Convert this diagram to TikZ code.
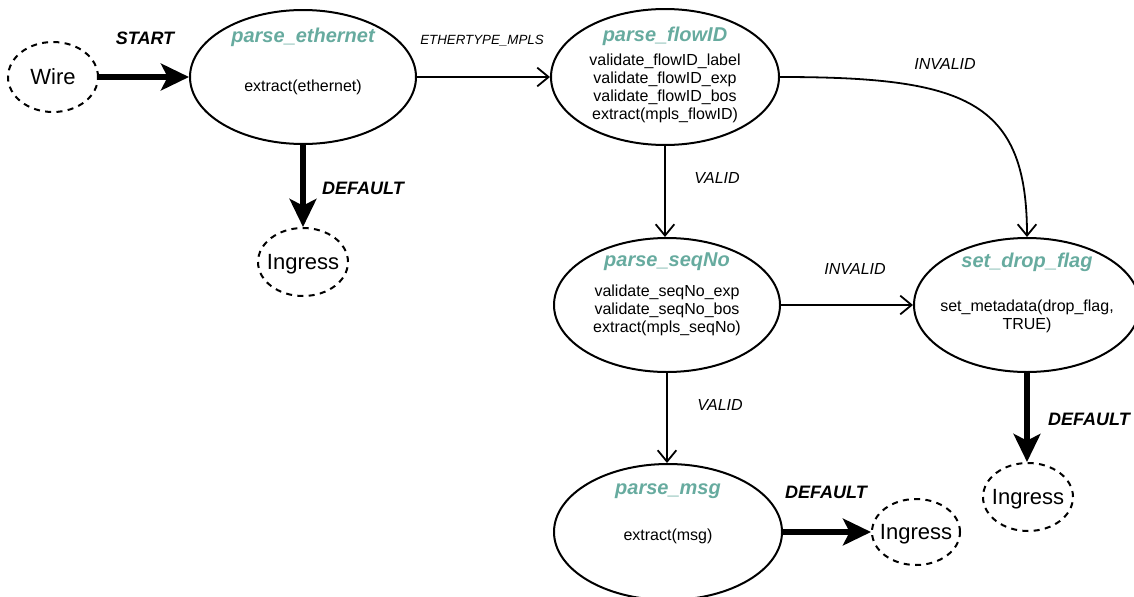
\documentclass[tikz,border=0pt]{standalone}
\usepackage{fontspec}
\setmainfont{Liberation Sans}
\usetikzlibrary{shapes.geometric,arrows.meta}
\definecolor{titlegreen}{HTML}{67AB9F}
\begin{document}
\begin{tikzpicture}[x=0.75pt,y=-0.75pt,
  state/.style={draw=black, line width=1.5pt, ellipse, inner sep=0pt},
  term/.style={draw=black, line width=1.5pt, dash pattern=on 4.5pt off 4pt, ellipse, inner sep=0pt},
  termtext/.style={font=\fontsize{16.5}{18}\selectfont, inner sep=0pt, text depth=0pt},
  title/.style={font=\fontsize{15}{17}\selectfont\bfseries\itshape, text=titlegreen, inner sep=0pt},
  body/.style={font=\fontsize{12}{13.5}\selectfont, align=center, inner sep=0pt},
  thin/.style={line width=1.35pt, -{Straight Barb[length=8.5pt,width=14pt]}},
  thick/.style={line width=4.5pt, -{Stealth[length=21pt,width=20pt,inset=5pt]}},
  cond/.style={font=\fontsize{12}{14}\selectfont\itshape, inner sep=0pt},
  small/.style={font=\fontsize{10}{12}\selectfont\itshape, inner sep=0pt},
  strong/.style={font=\fontsize{13.5}{16}\selectfont\bfseries\itshape, inner sep=0pt}]
\useasboundingbox (0,0) rectangle (1134,596);
\clip (0,0) rectangle (1134,596);

% terminal states
\node[term, minimum width=67.5pt, minimum height=52.5pt] (wire) at (53,77) {};
\node[termtext] (wiret) at (wire.center) {Wire};
\node[term, minimum width=67.5pt, minimum height=51pt] (ing1) at (303,262) {};
\node[termtext] (ing1t) at (ing1.center) {Ingress};
\node[term, minimum width=66pt, minimum height=49.5pt] (ing2) at (916,532) {};
\node[termtext] (ing2t) at (ing2.center) {Ingress};
\node[term, minimum width=67.5pt, minimum height=51pt] (ing3) at (1028,497) {};
\node[termtext] (ing3t) at (ing3.center) {Ingress};

% parser states
\node[state, minimum width=169.5pt, minimum height=100.5pt] (pe) at (303,77) {};
\node[title] (pet) at (303,37) {parse\_ethernet};
\node[body] (peb) at (303,87) {extract(ethernet)};

\node[state, minimum width=171pt, minimum height=102pt] (pf) at (665,77) {};
\node[title] (pft) at (665,36) {parse\_flowID};
\node[body] (pfb) at (665,88) {validate\_flowID\_label\\validate\_flowID\_exp\\validate\_flowID\_bos\\extract(mpls\_flowID)};

\node[state, minimum width=169.5pt, minimum height=100.5pt] (ps) at (667,305) {};
\node[title] (pst) at (667,262) {parse\_seqNo};
\node[body] (psb) at (667,310) {validate\_seqNo\_exp\\validate\_seqNo\_bos\\extract(mpls\_seqNo)};

\node[state, minimum width=169.5pt, minimum height=100.5pt] (sd) at (1027,305) {};
\node[title] (sdt) at (1027,262) {set\_drop\_flag};
\node[body] (sdb) at (1027,316) {set\_metadata(drop\_flag,\\TRUE)};

\node[state, minimum width=171pt, minimum height=102pt] (pm) at (668,532) {};
\node[title] (pmt) at (668,491) {parse\_msg};
\node[body] (pmb) at (668,536) {extract(msg)};

% transitions
\draw[thick] (wire.east) -- (pe.west);
\draw[thick] (pe.south) -- (ing1.north);
\draw[thin] (pe.east) -- (pf.west);
\draw[thin] (pf.east) .. controls (965,77) and (1027,100) .. (sd.north);
\draw[thin] (pf.south) -- (pf.south |- ps.north);
\draw[thin] (ps.east) -- (sd.west);
\draw[thin] (ps.south) -- (ps.south |- pm.north);
\draw[thick] (sd.south) -- (sd.south |- ing3.north);
\draw[thick] (pm.east) -- (ing2.west);

% transition labels
\node[strong] (lstart) at (145,38) {START};
\node[strong] (ldef1) at (363,188) {DEFAULT};
\node[small] (leth) at (482,41) {ETHERTYPE\_MPLS};
\node[cond] (linv1) at (945,64) {INVALID};
\node[cond] (lval1) at (717,178) {VALID};
\node[cond] (linv2) at (855,269) {INVALID};
\node[cond] (lval2) at (720,405) {VALID};
\node[strong] (ldef2) at (1089,419) {DEFAULT};
\node[strong] (ldef3) at (826,492) {DEFAULT};
\end{tikzpicture}
\end{document}
